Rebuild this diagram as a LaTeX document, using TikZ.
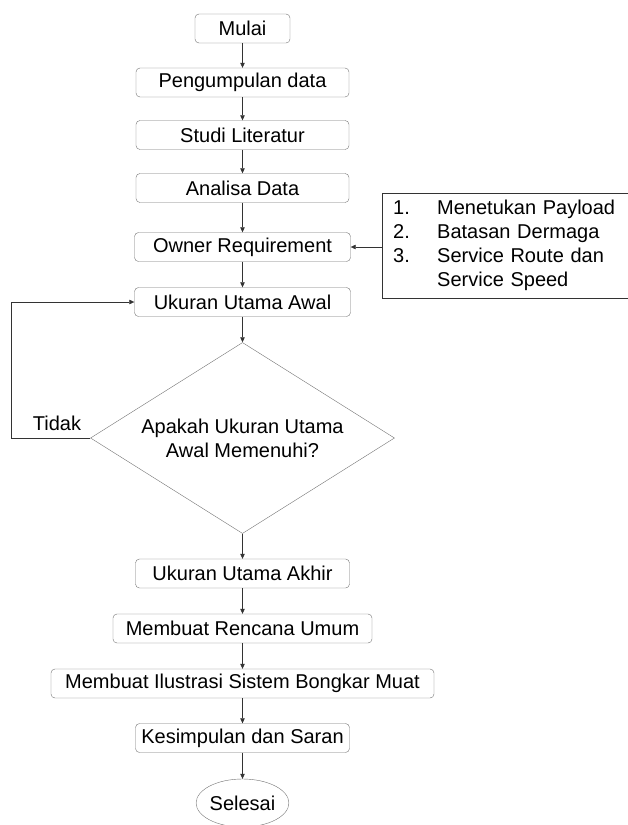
\documentclass[tikz,border=0pt]{standalone}
\usepackage{fontspec}
\setmainfont{Liberation Sans}
\usetikzlibrary{arrows.meta,shapes.geometric}

\begin{document}
\begin{tikzpicture}[x=1pt,y=-1pt,font=\fontsize{20}{24}\selectfont,
  box/.style={draw=black!55,rounded corners=4pt,minimum height=29pt,inner sep=0pt},
  arr/.style={-{Triangle[length=5pt,width=4.5pt]},draw=black!80,line width=0.5pt}]
\useasboundingbox (0,0) rectangle (627,825);
\node[box,minimum width=95pt] (mulai) at (242.5,28.5) {Mulai};
\node[box,minimum width=213pt] (kumpul) at (242.5,82.5) {Pengumpulan data};
\node[box,minimum width=213pt] (studi) at (242.5,135) {Studi Literatur};
\node[box,minimum width=213pt] (analisa) at (242.5,188) {Analisa Data};
\node[box,minimum width=216pt] (owner) at (242.5,247) {Owner Requirement};
\node[box,minimum width=216pt] (awal) at (242.5,302) {Ukuran Utama Awal};
\node[draw=black!55,diamond,aspect=1.6,minimum width=304pt,minimum height=191pt,inner sep=0pt,align=center] (cek) at (242.5,438) {Apakah Ukuran Utama\\Awal Memenuhi?};
\node (tidak) at (57,423) {Tidak};
\node[box,minimum width=214pt] (akhir) at (242.5,573.5) {Ukuran Utama Akhir};
\node[box,minimum width=259pt] (rencana) at (242.5,628.5) {Membuat Rencana Umum};
\node[box,minimum width=383pt] (ilustrasi) at (242.5,683.5) {Membuat Ilustrasi Sistem Bongkar Muat};
\node[box,minimum width=214pt] (simpul) at (242.5,738) {Kesimpulan dan Saran};
\node[draw=black!55,ellipse,minimum width=89pt,minimum height=48pt,inner sep=0pt] (selesai) at (242.5,803) {Selesai};
\node[draw=black!80,anchor=north west,text width=234pt,inner xsep=11pt,inner ysep=7pt,align=left] (syarat) at (382,193)
  {\makebox[44pt][l]{1.}Menetukan Payload\\
   \makebox[44pt][l]{2.}Batasan Dermaga\\
   \makebox[44pt][l]{3.}Service Route dan\\
   \hspace*{44pt}Service Speed};
\draw[arr] (mulai) -- (kumpul);
\draw[arr] (kumpul) -- (studi);
\draw[arr] (studi) -- (analisa);
\draw[arr] (analisa) -- (owner);
\draw[arr] (owner) -- (awal);
\draw[arr] (syarat.west |- owner.east) -- (owner.east);
\draw[arr] (awal) -- (cek);
\draw[arr] (cek.west) -- ++(-79,0) |- (awal.west);
\draw[arr] (cek) -- (akhir);
\draw[arr] (akhir) -- (rencana);
\draw[arr] (rencana) -- (ilustrasi);
\draw[arr] (ilustrasi) -- (simpul);
\draw[arr] (simpul) -- (selesai);
\end{tikzpicture}
\end{document}
